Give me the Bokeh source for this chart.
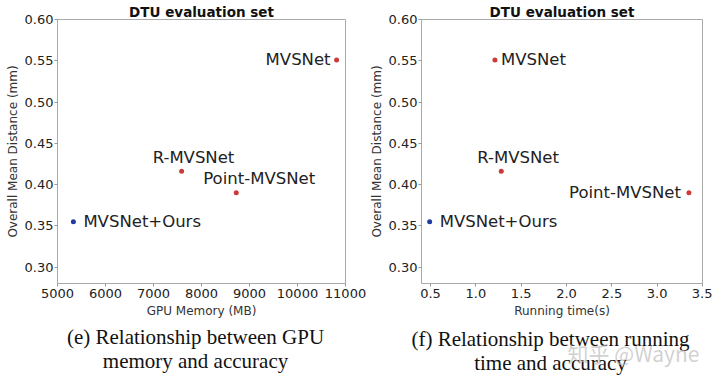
from bokeh.plotting import figure
from bokeh.layouts import row, column
from bokeh.models import Label, Range1d, FixedTicker, NumeralTickFormatter
from bokeh.core.properties import value
from bokeh.embed import file_html
from bokeh.resources import INLINE

# ---- data ----
methods = ["MVSNet", "R-MVSNet", "Point-MVSNet", "MVSNet+Ours"]
gpu_memory_mb = [10814, 7586, 8724, 5331]
running_time_s = [1.21, 1.28, 3.35, 0.49]
mean_distance_mm = [0.551, 0.416, 0.390, 0.355]
is_ours = [False, False, False, True]

y_ticks = [0.30, 0.35, 0.40, 0.45, 0.50, 0.55, 0.60]
gpu_ticks = [5000, 6000, 7000, 8000, 9000, 10000, 11000]
time_ticks = [0.5, 1.0, 1.5, 2.0, 2.5, 3.0, 3.5]

title_text = "DTU evaluation set"
y_label = "Overall Mean Distance (mm)"
caption_e = ["(e) Relationship between GPU", "memory and accuracy"]
caption_f = ["(f) Relationship between running", "time and accuracy"]
watermark = "知乎 @Wayne"

RED = "#cc3a3a"
BLUE = "#1f3c9e"
SANS = "DejaVu Sans"
SERIF = "Liberation Serif"


def make_fig(xvals, xr, xticks, xfmt, xlabel, width, bl, br, lab_styles):
    p = figure(width=width, height=320, x_range=Range1d(*xr), y_range=Range1d(0.28, 0.60),
               output_backend="svg", toolbar_location=None, title=title_text,
               min_border_left=bl, min_border_right=br, min_border_top=19, min_border_bottom=37)
    p.title.align = "center"
    p.title.text_font = SANS
    p.title.text_font_size = "13.5px"
    p.title.text_font_style = "bold"
    p.title.text_color = "#111111"
    p.title.standoff = 0
    p.grid.visible = False
    p.outline_line_color = "#aaaaaa"
    p.outline_line_width = 1
    for ax in (p.xaxis[0], p.yaxis[0]):
        ax.axis_line_color = None
        ax.major_tick_line_color = "#999999"
        ax.major_tick_out = 3
        ax.major_tick_in = 0
        ax.minor_tick_line_color = None
        ax.major_label_text_font = SANS
        ax.major_label_text_font_size = "13px"
        ax.major_label_text_color = "#222222"
        ax.axis_label_text_font = SANS
        ax.axis_label_text_font_size = "12px"
        ax.axis_label_text_font_style = "normal"
        ax.axis_label_text_color = "#333333"
    p.xaxis.major_label_standoff = 2
    p.xaxis.axis_label_standoff = 3
    p.yaxis.major_label_standoff = 1
    p.yaxis.axis_label_standoff = 2
    p.xaxis.ticker = FixedTicker(ticks=xticks)
    p.xaxis.formatter = NumeralTickFormatter(format=xfmt)
    p.xaxis.axis_label = xlabel
    p.yaxis.ticker = FixedTicker(ticks=y_ticks)
    p.yaxis.formatter = NumeralTickFormatter(format="0.00")
    p.yaxis.axis_label = y_label

    colors = [BLUE if o else RED for o in is_ours]
    p.scatter(xvals, mean_distance_mm, size=5, color=colors, line_color=None)

    for i, name in enumerate(methods):
        align, dx, dy = lab_styles[i]
        p.add_layout(Label(x=xvals[i], y=mean_distance_mm[i], text=name, text_align=align,
                           text_baseline="middle", x_offset=dx, y_offset=dy,
                           text_font=SANS, text_font_size="16.5px", text_color="#222222"))
    return p


left = make_fig(gpu_memory_mb, (5000, 11000), gpu_ticks, "0", "GPU Memory (MB)", 366, 57, 21,
                [("right", -6, 0), ("left", -29, 14), ("left", -33, 14), ("left", 10, 0)])
right = make_fig(running_time_s, (0.4, 3.5), time_ticks, "0.0", "Running time(s)", 346, 49, 10,
                 [("left", 6, 0), ("left", -24, 14), ("right", -8, 0), ("left", 10, 0)])

# caption strip below the two charts (pixel-like coordinates)
cap = figure(width=712, height=57, x_range=Range1d(0, 712), y_range=Range1d(0, 57),
             output_backend="svg", toolbar_location=None, x_axis_type=None, y_axis_type=None,
             min_border=0, title=None)
cap.grid.visible = False
cap.outline_line_color = None
cap.text(x=[195, 195], y=[41, 17], text=caption_e, text_align="center",
         text_baseline="middle", text_font=value(SERIF), text_font_size="21px",
         text_color="#111111")
cap.text(x=[550, 550], y=[39, 15], text=caption_f, text_align="center",
         text_baseline="middle", text_font=value(SERIF), text_font_size="21px",
         text_color="#111111")
cap.text(x=[633], y=[25], text=[watermark], text_align="center", text_baseline="middle",
         text_font=value("Noto Sans CJK SC"), text_font_size="21px", text_color="#bdbdbd",
         text_alpha=0.7)

layout = column(row(left, right), cap)
open("out.html", "w").write(file_html(layout, INLINE))
